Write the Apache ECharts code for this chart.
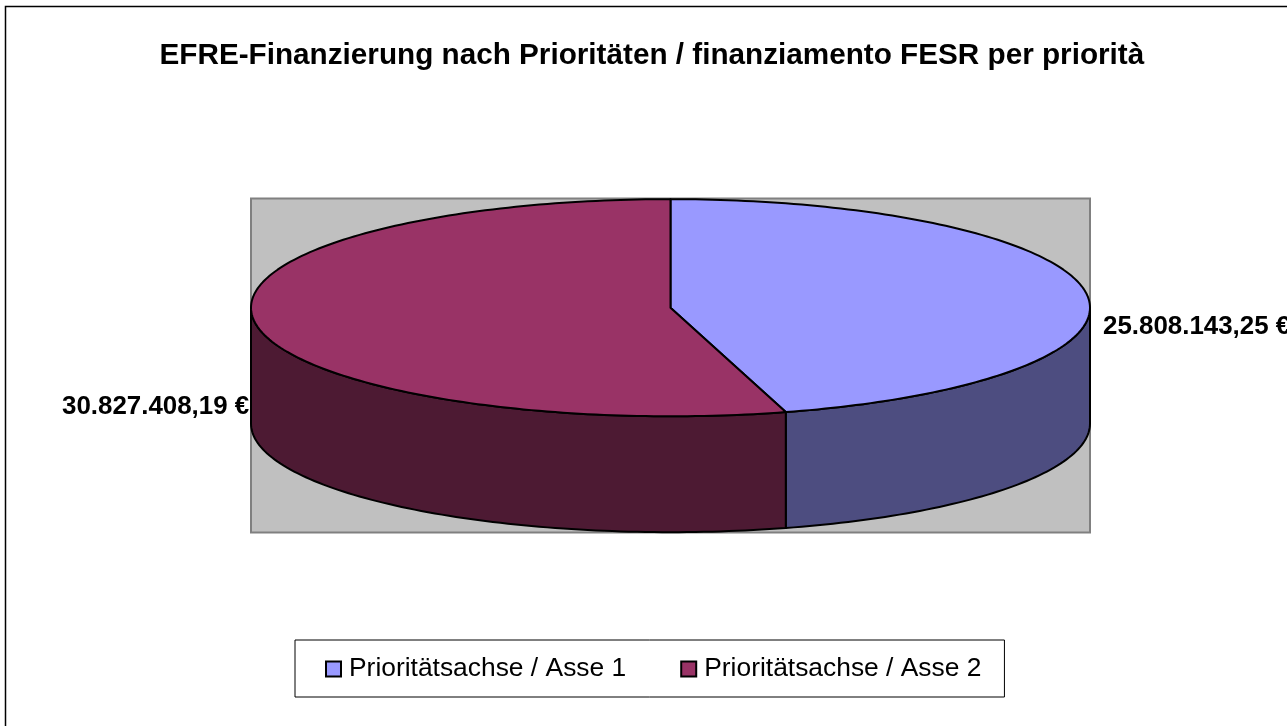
<!DOCTYPE html>
<html><head><meta charset="utf-8">
<style>html,body{margin:0;padding:0;background:#fff}#c{width:1287px;height:726px}</style>
<script src="https://cdn.jsdelivr.net/npm/echarts@6/dist/echarts.min.js"></script>
</head><body><div id="c"></div>
<script>
const titleText = 'EFRE-Finanzierung nach Prioritäten / finanziamento FESR per priorità';
const categories = ['Prioritätsachse / Asse 1', 'Prioritätsachse / Asse 2'];
const values = [25808143.25, 30827408.19];
const valueLabels = ['25.808.143,25 €', '30.827.408,19 €'];
const topColors = ['#9999FF', '#993366'];
const sideColors = ['#4D4D80', '#4D1A33'];

const FONT = '"Liberation Sans", Arial, sans-serif';
const total = values.reduce((a, b) => a + b, 0);
const fractions = [];
values.reduce((s, v) => { fractions.push([s / total, (s + v) / total]); return s + v; }, 0);

// pie geometry expressed in hidden axis units
const CY = 0.673, RY = 0.325, DEPTH = 0.347, RX = 1;

function arc(api, a0, a1, drop) {
  const n = Math.max(2, Math.ceil(Math.abs(a1 - a0) / 0.02));
  const pts = [];
  for (let i = 0; i <= n; i++) {
    const a = a0 + (a1 - a0) * i / n;
    pts.push(api.coord([RX * Math.sin(a), CY - drop + RY * Math.cos(a)]));
  }
  return pts;
}
const stroke = { stroke: '#000', lineWidth: 2, lineJoin: 'round' };

function sideItem(index) {
  return function (params, api) {
    const a0 = Math.max(fractions[index][0] * 2 * Math.PI, Math.PI / 2);
    const a1 = Math.min(fractions[index][1] * 2 * Math.PI, Math.PI * 1.5);
    return {
      type: 'polygon',
      shape: { points: arc(api, a0, a1, 0).concat(arc(api, a1, a0, DEPTH)) },
      style: Object.assign({ fill: sideColors[index] }, stroke)
    };
  };
}
function topItem(index) {
  return function (params, api) {
    const a0 = fractions[index][0] * 2 * Math.PI, a1 = fractions[index][1] * 2 * Math.PI;
    return {
      type: 'polygon',
      shape: { points: [api.coord([0, CY])].concat(arc(api, a0, a1, 0)) },
      style: Object.assign({ fill: topColors[index] }, stroke)
    };
  };
}
const labelAnchors = [[1.031, 0.617], [-1.4505, 0.376]];
function labelItem(params, api) {
  const i = params.dataIndex, p = api.coord(labelAnchors[i]);
  return {
    type: 'text', x: p[0], y: p[1],
    style: { text: valueLabels[i], fill: '#000', font: 'bold 25.9px ' + FONT,
             align: 'left', verticalAlign: 'middle' }
  };
}

const series = [];
// layers: labels under the pie, sides, then tops
series.push({ type: 'custom', name: 'labels', z: 1, silent: true, data: values, renderItem: labelItem, clip: false });
[0, 1].forEach(i => {
  series.push({ type: 'custom', name: categories[i], z: 3, clip: false, silent: true,
    itemStyle: { color: topColors[i] }, data: [values[i]], renderItem: sideItem(i) });
});
[0, 1].forEach(i => {
  series.push({ type: 'custom', name: categories[i] + ' top', z: 4, clip: false, silent: true,
    data: [values[i]], renderItem: topItem(i) });
});

const chart = echarts.init(document.getElementById('c'), null, { renderer: 'canvas' });
chart.setOption({
  animation: false,
  backgroundColor: '#fff',
  title: { text: titleText, left: 159.5, top: 41,
    textStyle: { fontFamily: FONT, fontWeight: 'bold', fontSize: 29.7, color: '#000' }, padding: 0 },
  grid: { left: 251, top: 198.5, width: 839, height: 334, show: true, backgroundColor: '#C0C0C0',
    borderColor: '#808080', borderWidth: 2, containLabel: false },
  xAxis: { type: 'value', min: -1, max: 1, show: false },
  yAxis: { type: 'value', min: 0, max: 1, show: false },
  legend: {
    left: 295, top: 640, orient: 'horizontal', selectedMode: false,
    backgroundColor: '#fff', borderColor: '#000', borderWidth: 1,
    padding: [16, 23, 15, 30], itemGap: 54, itemWidth: 15, itemHeight: 15,
    icon: 'rect', textStyle: { fontFamily: FONT, fontSize: 26.4, color: '#000', padding: [0, 0, 0, 3] },
    data: categories.map((c, i) => ({ name: c, icon: 'rect',
      itemStyle: { color: topColors[i], borderColor: '#000', borderWidth: 2 } }))
  },
  graphic: [
    { type: 'polyline', silent: true, shape: { points: [[5.5, 726], [5.5, 6.5], [1287, 6.5]] },
      style: { stroke: '#000', lineWidth: 1.5, fill: null } }
  ],
  series: series
});
</script></body></html>
